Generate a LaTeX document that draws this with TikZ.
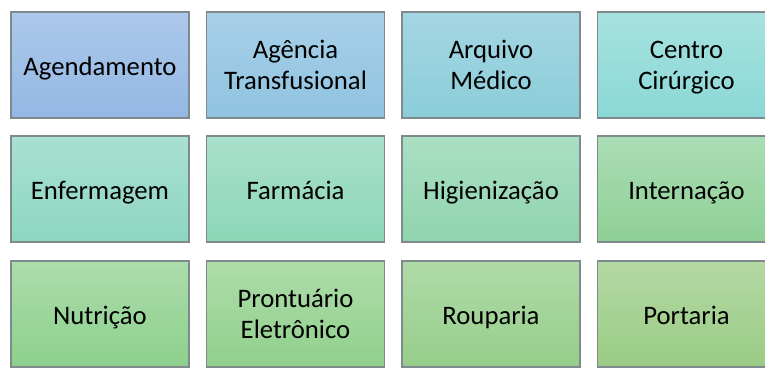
\documentclass[tikz,border=0pt]{standalone}
\usepackage{fontspec}
\setmainfont{Carlito}
\usepackage{tikz}

\definecolor{edgegray}{HTML}{7E8A8C}
% cores de cima (claras) e de baixo (base) de cada caixa
\definecolor{agendA}{HTML}{ACC8EA}   \definecolor{agendB}{HTML}{93B8E4}
\definecolor{agencA}{HTML}{A8D0E8}   \definecolor{agencB}{HTML}{8FC3E0}
\definecolor{arquiA}{HTML}{A4D6E2}   \definecolor{arquiB}{HTML}{8BCDD9}
\definecolor{centrA}{HTML}{A7E2E0}   \definecolor{centrB}{HTML}{8AD8D6}
\definecolor{enferA}{HTML}{A8E0D2}   \definecolor{enferB}{HTML}{8ED6C0}
\definecolor{farmaA}{HTML}{A8E0CC}   \definecolor{farmaB}{HTML}{8ED6B8}
\definecolor{higieA}{HTML}{AADFC4}   \definecolor{higieB}{HTML}{90D4AE}
\definecolor{interA}{HTML}{ABDDB4}   \definecolor{interB}{HTML}{8ED096}
\definecolor{nutriA}{HTML}{ACDCAC}   \definecolor{nutriB}{HTML}{8CD08C}
\definecolor{prontA}{HTML}{AEDCAA}   \definecolor{prontB}{HTML}{90D08C}
\definecolor{roupaA}{HTML}{B0DAA8}   \definecolor{roupaB}{HTML}{96CE8A}
\definecolor{portaA}{HTML}{B4D8A4}   \definecolor{portaB}{HTML}{9ACC84}

\tikzset{
  setor/.style={draw=edgegray, line width=1.3pt, top color=#1A, bottom color=#1B,
    minimum width=178pt, minimum height=106pt, inner sep=0pt, align=center,
    font=\fontsize{26.7}{31}\selectfont},
  umalinha/.style={text height=22pt, text depth=2pt}
}

\begin{document}
\begin{tikzpicture}[x=1pt, y=-1pt]
                \useasboundingbox (0,0) rectangle (765,369);
                \clip (0,0) rectangle (765,369);
                % primeira linha
                \node[setor=agend, umalinha] (agend) at (100,65) {Agendamento};
                \node[setor=agenc] (agencia) at (295.5,65) {Agência\\Transfusional};
                \node[setor=arqui] (arquivo) at (491,65) {Arquivo\\Médico};
                \node[setor=centr] (centro) at (686.5,65) {Centro\\\raisebox{0pt}[\height][0pt]{Cirúrgico}};
                % segunda linha
                \node[setor=enfer, umalinha] (enferm) at (100,189) {Enfermagem};
                \node[setor=farma, umalinha] (farmacia) at (295.5,189) {Farmácia};
                \node[setor=higie, umalinha] (higien) at (491,189) {Higienização};
                \node[setor=inter, umalinha] (intern) at (686.5,189) {Internação};
                % terceira linha
                \node[setor=nutri, umalinha] (nutricao) at (100,314) {Nutrição};
                \node[setor=pront] (prontu) at (295.5,314) {Prontuário\\Eletrônico};
                \node[setor=roupa, umalinha] (rouparia) at (491,314) {Rouparia};
                \node[setor=porta, umalinha] (portaria) at (686.5,314) {Portaria};
            \end{tikzpicture}
\end{document}
